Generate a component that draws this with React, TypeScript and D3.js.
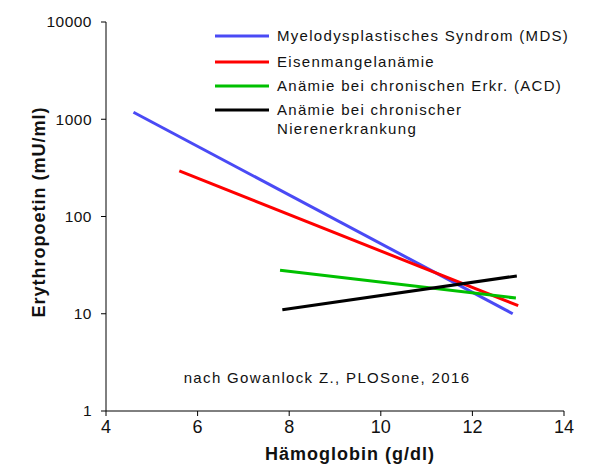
import React from "react";
import * as d3 from "d3";

const seriesNames = [
  "Myelodysplastisches Syndrom (MDS)",
  "Eisenmangelanämie",
  "Anämie bei chronischen Erkr. (ACD)",
  "Anämie bei chronischer\nNierenerkrankung",
];
const seriesColors = ["#4a4af5", "#ff0000", "#00c000", "#000000"];
const seriesHb = [
  [4.6, 12.88],
  [5.6, 13.0],
  [7.8, 12.95],
  [7.85, 12.97],
];
const seriesEpo = [
  [1180, 10],
  [295, 12.1],
  [28, 14.5],
  [11, 24.5],
];
const xTicks = [4, 6, 8, 10, 12, 14];
const yTicks = [1, 10, 100, 1000, 10000];

export default function App() {
  const W = 600, H = 474;
  const x = d3.scaleLinear().domain([4, 14]).range([106, 564]);
  const y = d3.scaleLog().domain([1, 10000]).range([411, 22]);
  const line = d3
    .line<[number, number]>()
    .x((d) => x(d[0]))
    .y((d) => y(d[1]));

  return (
    <svg
      width={W}
      height={H}
      style={{ position: "absolute", left: 0, top: 0, background: "#fff" }}
      fontFamily="'Liberation Sans', Arial, sans-serif"
    >
      {/* axes */}
      <line x1={x(4)} x2={x(14)} y1={y(1)} y2={y(1)} stroke="#000" strokeWidth={1} />
      <line x1={x(4)} x2={x(4)} y1={y(1)} y2={y(10000)} stroke="#000" strokeWidth={1} />
      {yTicks.map((t) => (
        <g key={"y" + t}>
          <line x1={x(4) - 5} x2={x(4)} y1={y(t)} y2={y(t)} stroke="#000" />
          <text
            x={x(4) - 14}
            y={y(t)}
            dy="0.35em"
            textAnchor="end"
            fontSize={15.5}
            letterSpacing={0.5}
            fill="#111"
          >
            {t}
          </text>
        </g>
      ))}
      {xTicks.map((t) => (
        <g key={"x" + t}>
          <line x1={x(t)} x2={x(t)} y1={y(1)} y2={y(1) + 5} stroke="#000" />
          <text x={x(t)} y={433} textAnchor="middle" fontSize={18} fill="#111">
            {t}
          </text>
        </g>
      ))}
      <text
        x={350}
        y={460}
        textAnchor="middle"
        fontSize={18}
        fontWeight="bold"
        letterSpacing={1}
        fill="#111"
      >
        Hämoglobin (g/dl)
      </text>
      <text
        transform={`translate(45,212) rotate(-90)`}
        textAnchor="middle"
        fontSize={18}
        fontWeight="bold"
        letterSpacing={1}
        fill="#111"
      >
        Erythropoetin (mU/ml)
      </text>

      {/* lines */}
      {seriesHb.map((xs, i) => {
        const pts: [number, number][] = xs.map((v, j) => [v, seriesEpo[i][j]]);
        return (
          <path
            key={"s" + i}
            d={line(pts) || ""}
            fill="none"
            stroke={seriesColors[i]}
            strokeWidth={3}
          />
        );
      })}

      {/* legend */}
      {seriesNames.map((n, i) => {
        const ly = [36, 62, 86, 110][i];
        const lines = n.split("\n");
        return (
          <g key={"l" + i}>
            <line x1={215} x2={269} y1={ly} y2={ly} stroke={seriesColors[i]} strokeWidth={3} />
            {lines.map((s, k) => (
              <text
                key={k}
                x={277}
                y={ly + k * 19}
                dy="0.35em"
                fontSize={15}
                letterSpacing={1.3}
                fill="#111"
              >
                {s}
              </text>
            ))}
          </g>
        );
      })}

      <text x={327} y={378} dy="0.35em" textAnchor="middle" fontSize={15} letterSpacing={1.35} fill="#111">
        nach Gowanlock Z., PLOSone, 2016
      </text>
    </svg>
  );
}
